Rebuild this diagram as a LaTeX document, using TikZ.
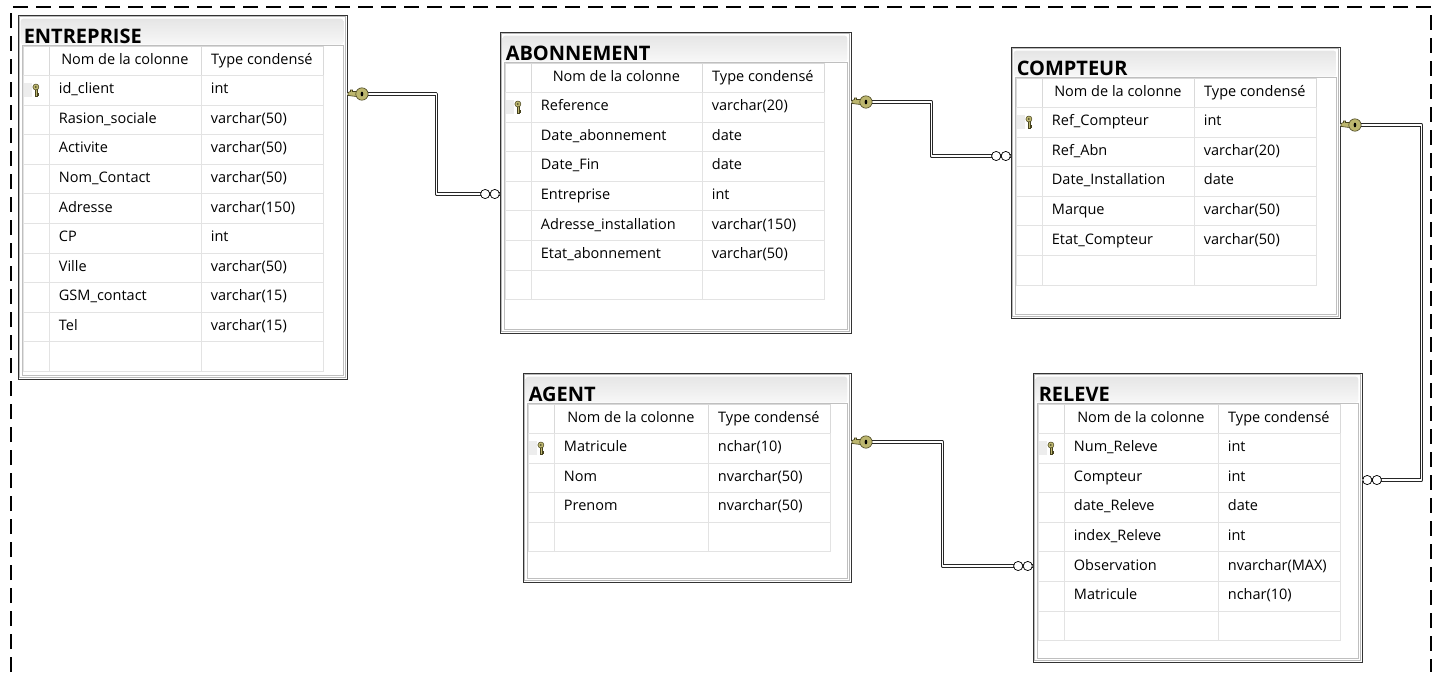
\documentclass[tikz,border=0pt]{standalone}
\usepackage{fontspec}
\setmainfont{Open Sans}
\usepackage{xcolor}
\usepackage{tikz}
\usetikzlibrary{positioning,calc,fit}
\definecolor{keyfill}{RGB}{188,182,110}
\definecolor{keyline}{RGB}{70,66,30}
\newcommand{\cellfont}{\fontsize{14.5}{17}\selectfont}
% table: id, x0, y0, x1, y1, name column width, title, rows
\newcommand{\dbtable}[8]{%
  \node[tblframe, fit={(#2,#3) (#4,#5)}] (#1) {};
  \draw[tblinner] ([shift={(2pt,-2pt)}]#1.north west) rectangle ([shift={(-2pt,2pt)}]#1.south east);
  \shade[titlebar] ([shift={(3pt,-4pt)}]#1.north west) rectangle ([shift={(-4pt,-30pt)}]#1.north east);
  \node[tbltitle] (#1-title) at ([shift={(6pt,-28.5pt)}]#1.north west) {#7};
  \draw[gridframe] ([shift={(4.5pt,-30.5pt)}]#1.north west) rectangle ([shift={(-4pt,4pt)}]#1.south east);
  \pgfmathsetmacro\namew{#6-20}
  \node[hdcell, minimum width=26pt] (#1-hk) at ({#2+4.5},{#3+30.5}) {};
  \node[hdcell, minimum width=#6pt] (#1-hn) at ({#2+30.5},{#3+30.5}) {Nom de la colonne};
  \node[hdcell, minimum width=122pt] (#1-ht) at ({#2+30.5+#6},{#3+30.5}) {Type condensé};
  \foreach \cname/\ctype [count=\i] in {#8} {
    \pgfmathsetmacro\ry{#3+60+(\i-1)*29.6}
    \node[cellbox, minimum width=26pt] (#1-k\i) at ({#2+4.5},\ry) {};
    \node[cellbox, txtcell, text width=\namew pt] (#1-n\i) at ({#2+30.5},\ry) {\cname};
    \node[cellbox, txtcell, text width=102pt] (#1-t\i) at ({#2+30.5+#6},\ry) {\ctype};
  }
  \pic at (#1-k1) {pkicon};
}

\begin{document}
\begin{tikzpicture}[
    x=1pt, y=-1pt,
    outerdash/.style={line width=2pt, dash pattern=on 15pt off 8pt},
    tblframe/.style={draw=black!80, line width=0.9pt, inner sep=0pt},
    tblinner/.style={draw=gray!55, line width=0.6pt},
    titlebar/.style={top color=gray!20, bottom color=gray!6, rounded corners=3pt},
    tbltitle/.style={anchor=base west, inner sep=0pt, font=\fontsize{20}{22}\selectfont\bfseries},
    gridframe/.style={draw=gray!50, line width=0.7pt, fill=white},
    cellbox/.style={draw=gray!22, line width=0.8pt, inner sep=0pt, minimum height=29.6pt,
      anchor=north west, font=\cellfont, text height=10.5pt, text depth=3.5pt},
    txtcell/.style={inner xsep=10pt, align=left},
    hdcell/.style={cellbox, draw=gray!30, minimum height=29.5pt},
    rel/.style={draw=black!85, line width=0.9pt, double=white, double distance=1.3pt, line join=round},
    pkicon/.pic={
      \fill[gray!14] (-12pt,-7pt) rectangle (-4pt,7pt);
      \filldraw[fill=keyfill, draw=keyline, line width=0.5pt] (-1pt,0.8pt) rectangle (1pt,-6pt);
      \filldraw[fill=keyfill, draw=keyline, line width=0.4pt] (1pt,-3pt) rectangle (2.5pt,-4.5pt);
      \filldraw[fill=keyfill, draw=keyline, line width=0.5pt] (0,3.2pt) circle (3pt);
      \fill[black] (0,3.2pt) circle (0.8pt);
    },
    fkkey/.pic={
      \filldraw[fill=keyfill, draw=keyline, line width=0.6pt] (0.5pt,-1.5pt) -- (9pt,-2.5pt) -- (9pt,2.5pt)
        -- (5pt,2.5pt) -- (5pt,4pt) -- (3pt,4pt) -- (3pt,2.5pt) -- (0.5pt,1.5pt) -- cycle;
      \filldraw[fill=keyfill, draw=keyline, line width=0.6pt] (14.5pt,0) circle (6.2pt);
      \fill[black] (14.5pt,0) ellipse (1.3pt and 2.4pt);
    },
    manyend/.pic={
      \filldraw[fill=white, draw=black, line width=0.7pt] (-4.8pt,0) circle (4.6pt) (-14.4pt,0) circle (4.6pt);
    },
]
    \useasboundingbox (0,0) rectangle (1439,672);

    % Frame
    \draw[outerdash] (11,672) -- (11,7) -- (1431,7) -- (1431,672);

    % Tables
    \dbtable{ent}{18}{15}{347}{379}{152}{ENTREPRISE}{id\_client/int, Rasion\_sociale/varchar(50),
      Activite/varchar(50), Nom\_Contact/varchar(50), Adresse/varchar(150), CP/int,
      Ville/varchar(50), GSM\_contact/varchar(15), Tel/varchar(15), {}/{}}
    \dbtable{abo}{500}{32}{851}{333}{171}{ABONNEMENT}{Reference/varchar(20), Date\_abonnement/date,
      Date\_Fin/date, Entreprise/int, Adresse\_installation/varchar(150), Etat\_abonnement/varchar(50), {}/{}}
    \dbtable{cpt}{1011}{47}{1340}{318}{152}{COMPTEUR}{Ref\_Compteur/int, Ref\_Abn/varchar(20),
      Date\_Installation/date, Marque/varchar(50), Etat\_Compteur/varchar(50), {}/{}}
    \dbtable{agt}{523}{373}{851}{582}{154}{AGENT}{Matricule/nchar(10), Nom/nvarchar(50),
      Prenom/nvarchar(50), {}/{}}
    \dbtable{rel}{1033}{373}{1362}{662}{154}{RELEVE}{Num\_Releve/int, Compteur/int, date\_Releve/date,
      index\_Releve/int, Observation/nvarchar(MAX), Matricule/nchar(10), {}/{}}

    % Relation ends
    \coordinate (ent-k) at (ent.east |- 0,94);
    \coordinate (abo-m) at (abo.west |- 0,194);
    \coordinate (abo-k) at (abo.east |- 0,102);
    \coordinate (cpt-m) at (cpt.west |- 0,156);
    \coordinate (cpt-k) at (cpt.east |- 0,125);
    \coordinate (rel-m1) at (rel.east |- 0,480);
    \coordinate (agt-k) at (agt.east |- 0,442);
    \coordinate (rel-m2) at (rel.west |- 0,566);

    % Relations
    \draw[rel] (ent-k) -- ++(89,0) |- (abo-m);
    \draw[rel] (abo-k) -- ++(80,0) |- (cpt-m);
    \draw[rel] (cpt-k) -- ++(81,0) |- (rel-m1);
    \draw[rel] (agt-k) -- ++(91,0) |- (rel-m2);

    \foreach \k in {ent-k, abo-k, cpt-k, agt-k}
      \pic at (\k) {fkkey};
    \pic at (abo-m) {manyend};
    \pic at (cpt-m) {manyend};
    \pic at (rel-m2) {manyend};
    \pic[xscale=-1] at (rel-m1) {manyend};
\end{tikzpicture}
\end{document}
